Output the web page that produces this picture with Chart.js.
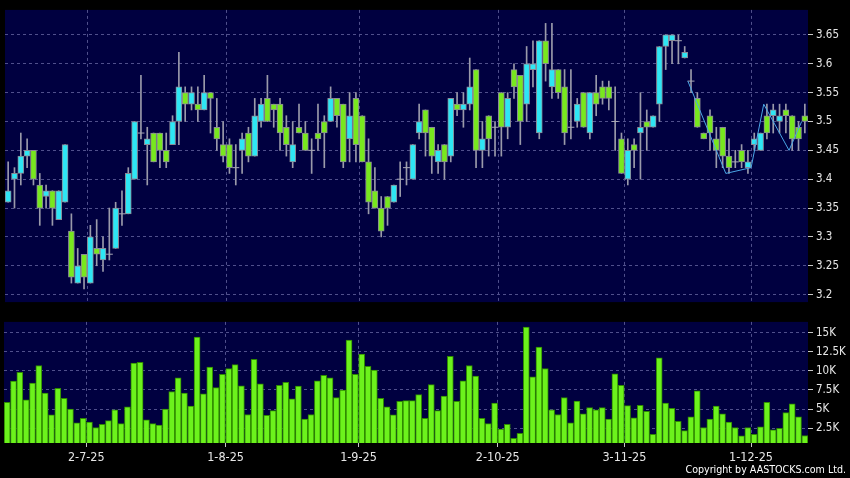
<!DOCTYPE html>
<html>
<head>
<meta charset="utf-8">
<script src="https://cdn.jsdelivr.net/npm/chart.js@4.4.1/dist/chart.umd.min.js"></script>
<style>
  html, body { margin: 0; padding: 0; background: #000; }
  #wrap { position: relative; width: 850px; height: 478px; overflow: hidden; background: #000; }
  #price { position: absolute; left: 0; top: 0; }
  #volume { position: absolute; left: 0; top: 312px; }
  #copy {
    position: absolute; right: 4px; top: 463px; color: #fff;
    font: 10.6px "DejaVu Sans Condensed", "DejaVu Sans", sans-serif;
  }
</style>
</head>
<body>
<div id="wrap">
  <canvas id="price" width="850" height="312"></canvas>
  <canvas id="volume" width="850" height="166"></canvas>
  <div id="copy">Copyright by AASTOCKS.com Ltd.</div>
</div>
<script>
// Daily prices, one entry per trading day (oldest first)
const openPx = [3.36, 3.40, 3.41, 3.44, 3.45, 3.39, 3.37, 3.38, 3.33, 3.36,
  3.31, 3.22, 3.27, 3.22, 3.28, 3.26, 3.27, 3.28, 3.34, 3.34,
  3.40, 3.48, 3.46, 3.48, 3.48, 3.45, 3.46, 3.50, 3.55, 3.53,
  3.53, 3.52, 3.55, 3.49, 3.46, 3.46, 3.42, 3.45, 3.48, 3.44,
  3.50, 3.54, 3.53, 3.53, 3.49, 3.43, 3.49, 3.48, 3.45, 3.48,
  3.50, 3.50, 3.54, 3.53, 3.47, 3.54, 3.51, 3.43, 3.38, 3.35,
  3.37, 3.36, 3.40, 3.42, 3.40, 3.48, 3.52, 3.49, 3.43, 3.46,
  3.44, 3.53, 3.52, 3.53, 3.59, 3.45, 3.51, 3.49, 3.55, 3.49,
  3.59, 3.58, 3.53, 3.59, 3.48, 3.64, 3.56, 3.59, 3.56, 3.49,
  3.50, 3.55, 3.48, 3.55, 3.56, 3.56, 3.50, 3.47, 3.40, 3.46,
  3.48, 3.50, 3.49, 3.53, 3.63, 3.64, 3.64, 3.61, 3.57, 3.54,
  3.48, 3.51, 3.47, 3.49, 3.44, 3.43, 3.45, 3.42, 3.46, 3.45,
  3.51, 3.51, 3.50, 3.52, 3.51, 3.49, 3.51];
const highPx = [3.43, 3.42, 3.48, 3.47, 3.45, 3.41, 3.39, 3.38, 3.38, 3.46,
  3.34, 3.28, 3.27, 3.32, 3.33, 3.30, 3.35, 3.36, 3.38, 3.42,
  3.50, 3.58, 3.49, 3.48, 3.48, 3.48, 3.51, 3.62, 3.56, 3.56,
  3.56, 3.58, 3.55, 3.54, 3.50, 3.47, 3.46, 3.48, 3.49, 3.54,
  3.54, 3.58, 3.53, 3.54, 3.51, 3.50, 3.53, 3.50, 3.47, 3.53,
  3.51, 3.56, 3.54, 3.53, 3.55, 3.55, 3.51, 3.47, 3.42, 3.37,
  3.37, 3.39, 3.43, 3.43, 3.46, 3.53, 3.52, 3.49, 3.46, 3.46,
  3.54, 3.55, 3.55, 3.61, 3.59, 3.50, 3.51, 3.50, 3.55, 3.55,
  3.60, 3.58, 3.63, 3.64, 3.64, 3.67, 3.67, 3.59, 3.59, 3.59,
  3.54, 3.55, 3.55, 3.58, 3.57, 3.57, 3.56, 3.48, 3.47, 3.47,
  3.55, 3.52, 3.51, 3.63, 3.65, 3.65, 3.65, 3.63, 3.59, 3.55,
  3.48, 3.52, 3.49, 3.49, 3.47, 3.45, 3.46, 3.45, 3.48, 3.48,
  3.53, 3.53, 3.53, 3.53, 3.51, 3.50, 3.53];
const lowPx = [3.36, 3.35, 3.39, 3.42, 3.39, 3.32, 3.35, 3.32, 3.33, 3.36,
  3.22, 3.22, 3.21, 3.22, 3.25, 3.24, 3.26, 3.28, 3.32, 3.34,
  3.40, 3.47, 3.39, 3.43, 3.42, 3.42, 3.46, 3.46, 3.50, 3.52,
  3.50, 3.52, 3.48, 3.45, 3.43, 3.41, 3.39, 3.41, 3.43, 3.44,
  3.49, 3.50, 3.49, 3.45, 3.44, 3.42, 3.48, 3.45, 3.41, 3.45,
  3.42, 3.50, 3.49, 3.42, 3.43, 3.43, 3.43, 3.34, 3.35, 3.30,
  3.32, 3.36, 3.37, 3.39, 3.40, 3.47, 3.44, 3.41, 3.41, 3.40,
  3.43, 3.51, 3.49, 3.52, 3.42, 3.42, 3.44, 3.44, 3.44, 3.47,
  3.54, 3.46, 3.50, 3.56, 3.47, 3.57, 3.54, 3.54, 3.46, 3.47,
  3.49, 3.49, 3.47, 3.51, 3.53, 3.52, 3.45, 3.41, 3.39, 3.42,
  3.40, 3.45, 3.49, 3.50, 3.59, 3.60, 3.60, 3.61, 3.55, 3.49,
  3.47, 3.45, 3.42, 3.42, 3.41, 3.42, 3.42, 3.41, 3.45, 3.45,
  3.47, 3.48, 3.48, 3.48, 3.45, 3.45, 3.48];
const closePx = [3.38, 3.41, 3.44, 3.45, 3.40, 3.35, 3.38, 3.35, 3.38, 3.46,
  3.23, 3.25, 3.23, 3.30, 3.27, 3.28, 3.27, 3.35, 3.34, 3.41,
  3.50, 3.48, 3.47, 3.43, 3.45, 3.43, 3.50, 3.56, 3.53, 3.55,
  3.52, 3.55, 3.54, 3.47, 3.44, 3.42, 3.42, 3.47, 3.44, 3.51,
  3.53, 3.50, 3.52, 3.48, 3.46, 3.46, 3.48, 3.45, 3.45, 3.47,
  3.48, 3.54, 3.51, 3.43, 3.51, 3.46, 3.43, 3.36, 3.35, 3.31,
  3.35, 3.39, 3.40, 3.42, 3.46, 3.50, 3.48, 3.44, 3.45, 3.43,
  3.54, 3.52, 3.53, 3.56, 3.45, 3.47, 3.47, 3.49, 3.49, 3.54,
  3.56, 3.50, 3.60, 3.60, 3.64, 3.60, 3.59, 3.55, 3.48, 3.49,
  3.53, 3.49, 3.55, 3.53, 3.54, 3.54, 3.50, 3.41, 3.45, 3.45,
  3.49, 3.49, 3.51, 3.63, 3.65, 3.65, 3.64, 3.62, 3.57, 3.49,
  3.47, 3.48, 3.45, 3.44, 3.42, 3.43, 3.43, 3.43, 3.47, 3.48,
  3.48, 3.52, 3.51, 3.51, 3.47, 3.47, 3.50];
// Volume in thousands of shares
const volumeK = [5.9, 8.65, 9.8, 6.2, 8.4, 10.7, 7.1, 4.25, 7.7, 6.4,
  5.0, 3.2, 3.8, 3.3, 2.6, 3.0, 3.5, 4.9, 3.1, 5.3,
  11.0, 11.1, 3.6, 3.1, 2.9, 5.0, 7.3, 9.1, 7.1, 5.4,
  14.4, 7.0, 10.5, 7.8, 9.55, 10.3, 10.8, 8.05, 4.3, 11.5,
  8.3, 4.2, 4.8, 8.1, 8.5, 6.35, 8.0, 3.7, 4.3, 8.7,
  9.4, 9.1, 6.5, 7.5, 14.0, 9.55, 12.2, 10.6, 10.1, 6.4,
  5.3, 4.25, 6.0, 6.1, 6.1, 6.9, 3.8, 8.2, 4.8, 6.7,
  11.9, 6.0, 8.7, 10.7, 9.3, 3.8, 3.1, 5.8, 2.4, 3.0,
  1.2, 1.85, 15.7, 9.2, 13.1, 10.3, 4.9, 4.3, 6.5, 3.2,
  6.05, 4.4, 5.2, 4.9, 5.2, 3.7, 9.6, 8.1, 5.45, 3.85,
  5.5, 4.7, 1.7, 11.7, 5.8, 5.1, 3.4, 2.2, 4.0, 7.4,
  2.6, 3.7, 5.4, 4.4, 3.3, 2.6, 1.5, 2.6, 1.7, 2.7,
  5.9, 2.3, 2.5, 4.55, 5.7, 4.0, 1.55];

// zigzag overlay at the right end
const zigzagX = [107.5, 113.5, 117.5, 119.5, 123.5, 125.5];
const zigzagY = [3.57, 3.41, 3.42, 3.53, 3.45, 3.50];

const monthTickPos = [12.5, 34.5, 55.5, 77.5, 97.5, 117.5];
const monthTickLabels = ['2-7-25', '1-8-25', '1-9-25', '2-10-25', '3-11-25', '1-12-25'];
const priceTicks = [3.2, 3.25, 3.3, 3.35, 3.4, 3.45, 3.5, 3.55, 3.6, 3.65];
const volumeTicks = [2.5, 5, 7.5, 10, 12.5, 15];

const UP = '#2ee6f4';
const DOWN = '#78e81e';
const GRID = '#50508c';
const LABEL = '#e6e6e6';
const FONT = '"DejaVu Sans Condensed", "DejaVu Sans", sans-serif';

// paint the navy plot area
const plotBg = {
    id: 'plotBg',
    beforeDraw(chart) {
        const { ctx, chartArea: a } = chart;
        ctx.save();
        ctx.fillStyle = '#000040';
        ctx.fillRect(a.left, a.top, a.right - a.left, a.bottom - a.top);
        ctx.restore();
    }
};

const idx = closePx.map((_, i) => i);
const bodies = idx.filter(i => openPx[i] !== closePx[i])
    .map(i => ({ x: i, y: [openPx[i], closePx[i]] }));
const dojis = idx.filter(i => openPx[i] === closePx[i])
    .map(i => ({ x: i, y: closePx[i] }));
const wicks = idx.map(i => ({ x: i, y: [lowPx[i], highPx[i]] }));
const zigzag = zigzagX.map((x, k) => ({ x: x, y: zigzagY[k] }));

function xScale(showLabels) {
    return {
        type: 'linear',
        min: -0.5,
        max: 126.5,
        offset: false,
        afterBuildTicks: s => { s.ticks = monthTickPos.map(v => ({ value: v })); },
        afterFit: s => { s.height = showLabels ? 35 : 0; },
        ticks: {
            display: showLabels,
            autoSkip: false,
            maxRotation: 0,
            padding: 3,
            color: LABEL,
            font: { family: FONT, size: 12.5 },
            callback: v => monthTickLabels[monthTickPos.indexOf(v)]
        },
        grid: {
            offset: false,
            color: GRID,
            drawTicks: showLabels,
            tickLength: 4,
            tickColor: '#c8c8c8',
            tickBorderDash: []
        },
        border: { display: false, dash: [3, 3] }
    };
}

function yScale(min, max, ticks, fmt) {
    return {
        position: 'right',
        min: min,
        max: max,
        afterBuildTicks: s => { s.ticks = ticks.map(v => ({ value: v })); },
        afterFit: s => { s.width = 42; },
        ticks: {
            padding: 3,
            color: LABEL,
            font: { family: FONT, size: 11.5 },
            callback: fmt
        },
        grid: {
            color: GRID,
            tickLength: 5,
            tickColor: '#c8c8c8',
            tickBorderDash: []
        },
        border: { display: false, dash: [3, 3] }
    };
}

const common = {
    responsive: false,
    animation: false,
    devicePixelRatio: 1,
    plugins: { legend: { display: false }, tooltip: { enabled: false } }
};

new Chart(document.getElementById('price'), {
    type: 'bar',
    data: {
        datasets: [
            {
                type: 'line',
                data: zigzag,
                borderColor: '#4aa6e6',
                borderWidth: 1,
                pointRadius: 0,
                order: 0
            },
            {
                data: bodies,
                backgroundColor: ctx => (ctx.raw.y[1] > ctx.raw.y[0] ? UP : DOWN),
                borderColor: '#8a8a96',
                borderWidth: 1,
                borderSkipped: false,
                barThickness: 6,
                grouped: false,
                order: 1
            },
            {
                type: 'line',
                data: dojis,
                showLine: false,
                pointStyle: 'line',
                pointRadius: 3.5,
                pointBorderColor: '#a8a8b6',
                pointBorderWidth: 1,
                borderColor: '#a8a8b6',
                order: 1
            },
            {
                data: wicks,
                backgroundColor: '#9a9aaa',
                barThickness: 1,
                grouped: false,
                order: 2
            }
        ]
    },
    options: Object.assign({}, common, {
        layout: { padding: { left: 4, top: 6, right: 0, bottom: 6 } },
        scales: {
            x: xScale(false),
            y: yScale(3.187, 3.6934, priceTicks, v => String(v))
        }
    }),
    plugins: [plotBg]
});

new Chart(document.getElementById('volume'), {
    type: 'bar',
    data: {
        datasets: [{
            data: volumeK.map((v, i) => ({ x: i, y: v })),
            backgroundColor: '#6cf21c',
            borderColor: '#2f8a00',
            borderWidth: 1,
            barThickness: 6
        }]
    },
    options: Object.assign({}, common, {
        layout: { padding: { left: 4, top: 7, right: 0, bottom: 0 } },
        scales: {
            x: xScale(true),
            y: yScale(0.574, 16.39, volumeTicks, v => v + 'K')
        }
    }),
    plugins: [plotBg]
});
</script>
</body>
</html>
